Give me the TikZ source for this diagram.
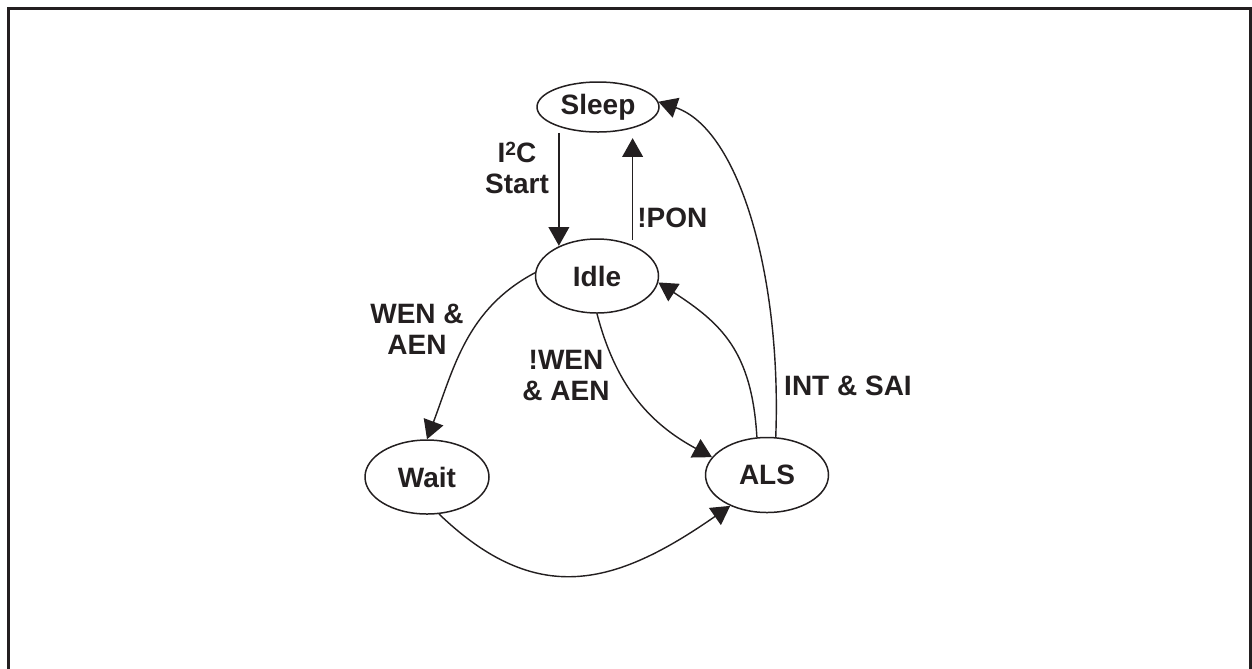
\documentclass[tikz,border=0pt]{standalone}
\usepackage{fontspec}
\setmainfont{Liberation Sans}
\usetikzlibrary{arrows.meta,shapes.geometric}
\definecolor{ink}{RGB}{35,31,32}
\newcommand{\supbig}[1]{\raisebox{3.8pt}{\fontsize{11.5}{11.5}\selectfont #1}}
\begin{document}
\begin{tikzpicture}[x=0.6pt,y=-0.6pt, color=ink,
  state/.style={ellipse, draw=ink, line width=0.9pt, inner sep=0pt, text=ink,
    font=\fontsize{16.8}{18.6}\selectfont\bfseries},
  lbl/.style={align=center, inner sep=0pt, text=ink,
    font=\fontsize{16.8}{18.6}\selectfont\bfseries},
  arr/.style={draw=ink, line width=0.85pt, -{Triangle[length=11.2pt,width=12.4pt]}}]
\useasboundingbox (0,0) rectangle (1252,668);
\clip (0,0) rectangle (1252,668);
\draw[draw=ink, line width=1.8pt] (8,8) rectangle (1250.5,700);

% states
\node[state, minimum width=73.2pt, minimum height=30pt] (sleep) at (598,107) {Sleep};
\node[state, minimum width=73.8pt, minimum height=44.4pt] (idle) at (597,276) {Idle};
\node[state, minimum width=74.4pt, minimum height=44.4pt] (wait) at (427,477) {Wait};
\node[state, minimum width=73.8pt, minimum height=45pt] (als) at (767,475) {ALS};

% connectors
\draw[arr, shorten <=3.6pt] (sleep.207) -- (sleep.207 |- idle.141);
\draw[arr, shorten >=6pt, shorten <=3pt] (idle.41) -- (idle.41 |- sleep.-31);
\draw[arr] (idle.177) .. controls +(-68,36) and +(27,-72) .. (wait.90);
\draw[arr] (idle.south) .. controls +(18,69) and +(-65,-35) .. (als.162);
\draw[arr] (als.105) .. controls +(-5,-86) and +(63,41) .. (idle.-6);
\draw[arr] (als.77) .. controls +(6,-157) and +(82,28) .. (sleep.5);
\draw[arr] (wait.-72) .. controls +(98,94) and +(-115,80) .. (als.-140);

% labels
\node[lbl] (lstart) at (517,168) {I\supbig{2}C\\Start};
\node[lbl, anchor=west] (lpon) at (637,218) {!PON};
\node[lbl] (lwen) at (417,329) {WEN \&\\AEN};
\node[lbl] (lnwen) at (566,375.5) {!WEN\\\& AEN};
\node[lbl] (lint) at (848,386) {INT \& SAI};
\end{tikzpicture}
\end{document}
